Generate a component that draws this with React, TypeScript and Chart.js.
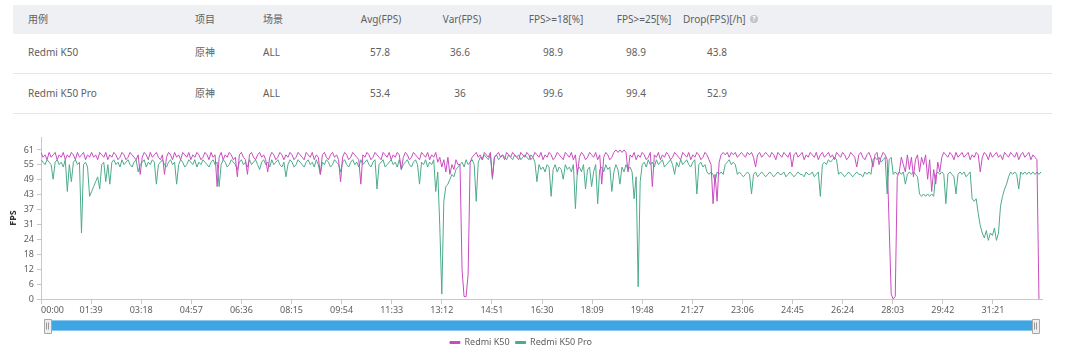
import React, { useEffect, useRef } from "react";
import { Chart, registerables } from "chart.js";

Chart.register(...registerables);

// ---------------- data ----------------
const TABLE_HEADERS = ["用例", "项目", "场景", "Avg(FPS)", "Var(FPS)", "FPS>=18[%]", "FPS>=25[%]", "Drop(FPS)[/h]"];
const DEVICES = ["Redmi K50", "Redmi K50 Pro"];
const PROJECTS = ["原神", "原神"];
const SCENES = ["ALL", "ALL"];
const AVG_FPS = ["57.8", "53.4"];
const VAR_FPS = ["36.6", "36"];
const FPS_GE_18 = ["98.9", "99.6"];
const FPS_GE_25 = ["98.9", "99.4"];
const DROP_FPS = ["43.8", "52.9"];

const SERIES_NAMES = ["Redmi K50", "Redmi K50 Pro"];
const SAMPLE_SECONDS = 4;
const X_MAX_SECONDS = 1978;
const X_TICK_SECONDS = [0, 99, 198, 297, 396, 495, 594, 693, 792, 891, 990, 1089, 1188, 1287, 1386, 1485, 1584, 1683, 1782, 1881];
const X_TICK_LABELS = ["00:00", "01:39", "03:18", "04:57", "06:36", "08:15", "09:54", "11:33", "13:12", "14:51", "16:30", "18:09", "19:48", "21:27", "23:06", "24:45", "26:24", "28:03", "29:42", "31:21"];
const Y_TICK_VALUES = [0, 6.1, 12.2, 18.3, 24.4, 30.5, 36.6, 42.7, 48.8, 54.9, 61];
const Y_TICK_LABELS = ["0", "6", "12", "18", "24", "31", "37", "43", "49", "55", "61"];
const Y_MAX = 66.3;

// FPS every 4 s, Redmi K50
const K50_FPS: (number | null)[] = [
  60, 58, 59, 57, 60, 58, 59, 60, 57, 59, 58, 60, 57, 59, 58, 60, 59, 57, 60, 58,
  59, 60, 57, 59, 58, 60, 58, 59, 57, 60, 59, 58, 60, 57, 59, 58, 60, 59, 57, 58,
  60, 59, 57, 58, 60, 59, 58, 57, 59, 51, 58, 60, 59, 57, 60, 58, 59, 60, 58, 57,
  59, 51, 58, 60, 59, 57, 60, 58, 59, 57, 60, 59, 58, 60, 57, 59, 58, 60, 59, 57,
  58, 60, 59, 57, 60, 58, 59, 46, 58, 60, 57, 59, 58, 60, 59, 57, 58, 50, 59, 60,
  58, 57, 51, 59, 60, 58, 57, 59, 60, 58, 59, 57, 52, 58, 60, 59, 57, 58, 60, 59,
  57, 59, 58, 60, 59, 57, 58, 60, 59, 58, 57, 60, 59, 58, 60, 57, 59, 58, 51, 59,
  60, 58, 57, 59, 60, 58, 59, 57, 48, 58, 60, 59, 57, 58, 60, 59, 58, 57, 47, 59,
  58, 60, 59, 57, 58, 60, 59, 58, 57, 60, 59, 58, 60, 57, 59, 58, 60, 59, 53, 58,
  60, 59, 57, 58, 60, 59, 58, 57, 60, 59, 58, 60, 57, 59, 58, 60, 56, 58, 54, 57,
  52, 58, 51, 55, 53, 57, 55, 55, 12, 1, 1, 10, 56, 58, 59, 60, 58, 59, 57, 60,
  59, 58, 60, 50, 58, 59, 60, 58, 59, 57, 60, 59, 58, 60, 59, 58, 57, 60, 59, 58,
  60, 59, 57, 58, 60, 59, 58, 60, 57, 59, 58, 60, 59, 57, 58, 60, 59, 58, 57, 60,
  59, 58, 60, 57, 59, 51, 58, 60, 59, 57, 58, 60, 59, 58, 60, 57, 59, 47, 58, 60,
  59, 57, 58, 60, 61, 60, 61, 60, 61, 60, 52, 59, 58, 60, 57, 59, 58, 60, 59, 57,
  58, 60, 46, 59, 58, 60, 57, 59, 58, 60, 59, 57, 58, 60, 59, 58, 57, 60, 59, 58,
  60, 57, 59, 58, 60, 59, 57, 58, 60, 59, 57, 55, 39, 51, 40, 56, 59, 60, 59, 60,
  58, 60, 59, 60, 58, 59, 60, 59, 58, 60, 59, 60, 58, 54, 59, 60, 58, 59, 60, 59,
  58, 60, 59, 57, 60, 59, 58, 60, 59, 58, 60, 54, 59, 60, 58, 59, 60, 57, 59, 58,
  60, 59, 58, 60, 57, 59, 60, 58, 59, 60, 58, 59, 57, 60, 59, 58, 60, 59, 57, 58,
  60, 59, 58, 54, 59, 60, 58, 57, 59, 60, 58, 54, 59, 60, 55, 58, 60, 59, 57, 30,
  2, 0, 1, 50, 52, 58, 55, 52, 59, 53, 58, 50, 57, 59, 52, 58, 55, 59, 49, 57,
  44, 53, 47, 56, 52, 58, 60, 59, 58, 60, 59, 57, 60, 58, 59, 60, 58, 59, 60, 57,
  59, 58, 60, 59, 52, 58, 60, 59, 57, 60, 58, 59, 60, 58, 59, 57, 60, 59, 58, 60,
  59, 58, 60, 57, 59, 60, 58, 59, 60, 57, 59, 58, 57, 0, null,
];

// FPS every 4 s, Redmi K50 Pro
const K50_PRO_FPS = [
  57, 56, 55, 57, 56, 55, 49, 56, 57, 55, 56, 54, 57, 44, 55, 48, 56, 57, 55, 56,
  27, 55, 56, 54, 42, 44, 46, 48, 50, 45, 55, 56, 48, 55, 47, 56, 57, 55, 56, 54,
  57, 55, 56, 57, 55, 54, 56, 57, 52, 55, 56, 57, 54, 56, 55, 57, 56, 47, 55, 56,
  57, 55, 54, 56, 57, 55, 56, 47, 55, 57, 56, 54, 55, 57, 56, 55, 57, 54, 56, 55,
  57, 56, 55, 54, 56, 57, 55, 56, 46, 55, 57, 56, 54, 55, 57, 56, 55, 53, 56, 57,
  55, 56, 54, 57, 55, 56, 57, 55, 53, 56, 57, 55, 56, 54, 57, 55, 56, 57, 55, 54,
  56, 50, 55, 57, 56, 54, 55, 57, 56, 55, 54, 56, 57, 55, 56, 54, 57, 55, 51, 56,
  55, 57, 56, 54, 55, 57, 56, 55, 52, 56, 57, 55, 54, 56, 57, 55, 56, 54, 57, 55,
  56, 57, 55, 54, 56, 57, 45, 55, 56, 57, 54, 55, 56, 57, 55, 56, 54, 57, 53, 55,
  56, 57, 55, 54, 56, 57, 55, 47, 56, 55, 57, 54, 56, 55, 57, 44, 52, 30, 2, 40,
  46, 47, 49, 51, 50, 53, 54, 55, 56, 54, 57, 55, 56, 57, 55, 40, 56, 58, 57, 59,
  58, 57, 59, 49, 58, 59, 57, 58, 59, 58, 57, 59, 58, 57, 59, 58, 59, 57, 58, 59,
  58, 57, 59, 58, 56, 48, 55, 53, 54, 52, 55, 54, 42, 53, 55, 52, 54, 53, 49, 55,
  53, 54, 52, 55, 37, 53, 54, 52, 55, 45, 53, 54, 46, 52, 55, 39, 53, 54, 52, 55,
  53, 54, 44, 52, 55, 53, 47, 54, 52, 55, 53, 54, 52, 41, 50, 5, 48, 55, 56, 54,
  57, 55, 56, 54, 57, 55, 56, 57, 54, 55, 56, 57, 55, 51, 56, 54, 57, 55, 56, 57,
  55, 54, 56, 57, 43, 55, 56, 54, 55, 52, 51, 52, 51, 48, 52, 51, 52, 51, 55, 56,
  57, 55, 56, 55, 51, 52, 51, 50, 51, 52, 51, 43, 51, 52, 50, 51, 52, 51, 50, 51,
  52, 51, 50, 51, 52, 51, 51, 52, 50, 51, 52, 51, 50, 51, 52, 51, 51, 50, 52, 51,
  51, 52, 50, 51, 52, 42, 55, 56, 55, 57, 56, 57, 58, 57, 51, 52, 51, 50, 51, 52,
  51, 50, 51, 52, 51, 51, 50, 52, 51, 52, 51, 57, 58, 57, 58, 56, 57, 58, 43, 57,
  58, 51, 52, 51, 52, 51, 52, 47, 51, 52, 51, 52, 51, 50, 43, 42, 43, 42, 43, 42,
  43, 42, 51, 52, 51, 52, 51, 39, 51, 52, 51, 50, 43, 51, 52, 51, 52, 50, 51, 52,
  41, 40, 41, 35, 30, 27, 25, 28, 24, 27, 26, 29, 24, 27, 38, 42, 45, 47, 50, 52,
  51, 52, 51, 45, 52, 51, 52, 51, 52, 51, 52, 51, 52, 51, 52,
];

// ---------------- styles ----------------
const FONT = '"Noto Sans", "Noto Sans CJK SC", sans-serif';
const K50_COLOR = "#c94cbf";
const K50_PRO_COLOR = "#4dab8c";
const TEXT_COLOR = "#606060";
const AXIS_COLOR = "#c8c8c8";

const toPoints = (values: (number | null)[]) => values.map((v, i) => ({ x: i * SAMPLE_SECONDS, y: v }));

const sliderPlugin = {
  id: "sliderBar",
  afterDraw(chart: any) {
    const { ctx, chartArea } = chart;
    const top = chartArea.bottom + 21;
    const h = 11;
    const left = 46;
    const right = 1038;
    ctx.save();
    ctx.fillStyle = "#3fa6e6";
    ctx.fillRect(left, top, right - left, h);
    ctx.strokeStyle = "#8cc7ee";
    ctx.lineWidth = 1;
    ctx.strokeRect(left + 0.5, top + 0.5, right - left - 1, h - 1);
    const drawHandle = (cx: number) => {
      const w = 7;
      const hh = 14;
      const x = cx - w / 2;
      const y = top + h / 2 - hh / 2;
      ctx.fillStyle = "#eeeeee";
      ctx.strokeStyle = "#a8a8a8";
      ctx.beginPath();
      ctx.rect(Math.round(x) + 0.5, Math.round(y) + 0.5, w, hh);
      ctx.fill();
      ctx.stroke();
      ctx.strokeStyle = "#999";
      ctx.beginPath();
      ctx.moveTo(Math.round(cx) - 0.5, y + 4);
      ctx.lineTo(Math.round(cx) - 0.5, y + hh - 3);
      ctx.moveTo(Math.round(cx) + 1.5, y + 4);
      ctx.lineTo(Math.round(cx) + 1.5, y + hh - 3);
      ctx.stroke();
    };
    drawHandle(47);
    drawHandle(1035);
    ctx.restore();
  },
};

const HEADER_X = [28, 195, 263, 381, 462, 556, 644, 683];
const VALUE_X = [28, 195, 263, 380, 460, 553, 636, 717];
const ROW_Y = [52, 93];

function Cell(props: { x: number; y: number; text: string; center?: boolean }) {
  return (
    <div
      style={{
        position: "absolute",
        left: props.x,
        top: props.y - 7,
        lineHeight: "14px",
        height: 14,
        whiteSpace: "nowrap",
        transform: props.center ? "translateX(-50%)" : undefined,
        fontSize: 10,
        color: TEXT_COLOR,
      }}
    >
      {props.text}
    </div>
  );
}

export default function App() {
  const canvasRef = useRef<HTMLCanvasElement>(null);

  useEffect(() => {
    const canvas = canvasRef.current;
    if (!canvas) return;
    const tickFont = { family: FONT, size: 9 };
    const xTickValues = [...X_TICK_SECONDS, X_MAX_SECONDS];
    const chart = new Chart(canvas, {
      type: "line",
      data: {
        datasets: [
          {
            label: SERIES_NAMES[0],
            data: toPoints(K50_FPS),
            borderColor: K50_COLOR,
            backgroundColor: K50_COLOR,
            borderWidth: 1,
            pointRadius: 0,
            tension: 0,
            spanGaps: false,
          },
          {
            label: SERIES_NAMES[1],
            data: toPoints(K50_PRO_FPS),
            borderColor: K50_PRO_COLOR,
            backgroundColor: K50_PRO_COLOR,
            borderWidth: 1,
            pointRadius: 0,
            tension: 0,
          },
        ],
      },
      options: {
        animation: false,
        responsive: false,
        layout: { padding: { left: 0, right: 38, top: 9, bottom: 0 } },
        plugins: {
          legend: {
            position: "bottom",
            labels: {
              boxWidth: 10,
              boxHeight: 2,
              padding: 6,
              color: TEXT_COLOR,
              font: { family: FONT, size: 9 },
            },
          },
          tooltip: { enabled: false },
        },
        scales: {
          x: {
            type: "linear",
            min: 0,
            max: X_MAX_SECONDS,
            afterBuildTicks: (scale: any) => {
              scale.ticks = xTickValues.map((v) => ({ value: v }));
            },
            afterFit: (scale: any) => {
              scale.height = 33;
            },
            ticks: {
              autoSkip: false,
              maxRotation: 0,
              padding: 1,
              align: "inner",
              color: TEXT_COLOR,
              font: tickFont,
              callback: (value: any) => X_TICK_LABELS[X_TICK_SECONDS.indexOf(Number(value))] ?? "",
            },
            grid: {
              drawOnChartArea: false,
              tickLength: 5,
              color: (c: any) => (c.index === xTickValues.length - 1 ? "rgba(0,0,0,0)" : AXIS_COLOR),
            },
            border: { color: AXIS_COLOR },
          },
          y: {
            type: "linear",
            min: 0,
            max: Y_MAX,
            afterBuildTicks: (scale: any) => {
              scale.ticks = Y_TICK_VALUES.map((v) => ({ value: v }));
            },
            afterFit: (scale: any) => {
              scale.width = 41;
            },
            title: {
              display: true,
              text: "FPS",
              color: "#333",
              font: { family: FONT, size: 9, weight: "bold" },
              padding: { top: 8, bottom: 0 },
            },
            ticks: {
              padding: 3,
              color: TEXT_COLOR,
              font: tickFont,
              callback: (value: any) => Y_TICK_LABELS[Y_TICK_VALUES.indexOf(Number(value))] ?? "",
            },
            grid: { drawOnChartArea: false, tickLength: 4, color: AXIS_COLOR },
            border: { color: AXIS_COLOR },
          },
        },
      },
      plugins: [sliderPlugin],
    } as any);
    return () => chart.destroy();
  }, []);

  const rows = DEVICES.map((d, i) => [d, PROJECTS[i], SCENES[i], AVG_FPS[i], VAR_FPS[i], FPS_GE_18[i], FPS_GE_25[i], DROP_FPS[i]]);

  return (
    <div
      style={{
        position: "fixed",
        left: 0,
        top: 0,
        width: 1080,
        height: 354,
        background: "#fff",
        overflow: "hidden",
        fontFamily: FONT,
      }}
    >
      <div style={{ position: "absolute", left: 13, top: 5, width: 1039, height: 29, background: "#eef0f4" }} />
      <div style={{ position: "absolute", left: 13, top: 73, width: 1039, height: 1, background: "#e6e6e6" }} />
      <div style={{ position: "absolute", left: 13, top: 113, width: 1039, height: 1, background: "#e6e6e6" }} />
      {TABLE_HEADERS.map((h, c) => (
        <Cell key={"h" + c} x={HEADER_X[c]} y={19} text={h} center={c >= 3 && c < 7} />
      ))}
      <div
        style={{
          position: "absolute",
          left: 750,
          top: 15,
          width: 8,
          height: 8,
          borderRadius: 4,
          background: "#c4c4c4",
          color: "#fff",
          fontSize: 7,
          lineHeight: "8px",
          textAlign: "center",
          fontWeight: "bold",
        }}
      >
        ?
      </div>
      {rows.map((r, ri) =>
        r.map((t, c) => <Cell key={ri + "-" + c} x={VALUE_X[c]} y={ROW_Y[ri]} text={t} center={c >= 3} />)
      )}
      <div style={{ position: "absolute", left: 0, top: 128, width: 1080, height: 229 }}>
        <canvas ref={canvasRef} width={1080} height={229} style={{ display: "block" }} />
      </div>
    </div>
  );
}
